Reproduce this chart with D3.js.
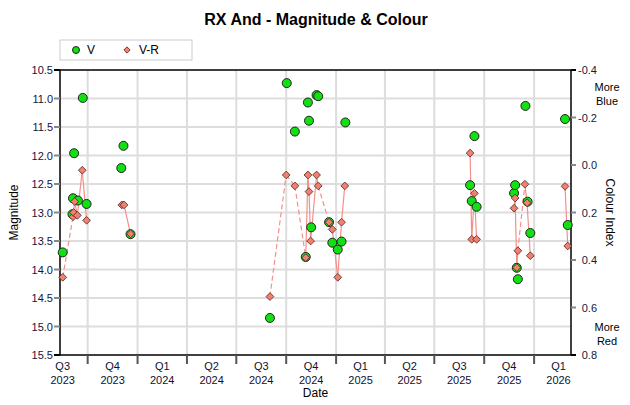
<!DOCTYPE html>
<html>
<head>
<meta charset="utf-8">
<title>RX And - Magnitude & Colour</title>
<style>
  body { margin: 0; background: #fff; }
  text { font-family: "Liberation Sans", Arial, sans-serif; }
</style>
</head>
<body>
<script src="https://d3js.org/d3.v7.min.js"></script>
<script>
// V magnitude observations
const vDates = ["2023-08-16","2023-09-03","2023-09-04","2023-09-06","2023-09-13","2023-09-22","2023-09-29",
  "2023-12-02","2023-12-06","2023-12-19",
  "2024-09-01","2024-10-02","2024-10-17","2024-11-06","2024-11-10","2024-11-12","2024-11-16","2024-11-26",
  "2024-11-29","2024-12-19","2024-12-25","2025-01-04","2025-01-11","2025-01-18",
  "2025-09-05","2025-09-08","2025-09-13","2025-09-17",
  "2025-11-25","2025-11-27","2025-11-30","2025-12-02","2025-12-16","2025-12-20","2025-12-25",
  "2026-02-27","2026-03-04"];
const vMags = [13.70, 13.03, 12.75, 11.96, 12.79, 10.99, 12.85,
  12.22, 11.83, 13.38,
  14.85, 10.73, 11.58, 13.78, 11.07, 11.39, 13.26, 10.94,
  10.96, 13.17, 13.53, 13.65, 13.51, 11.42,
  12.52, 12.80, 11.66, 12.90,
  12.66, 12.52, 13.97, 14.17, 11.13, 12.81, 13.36,
  11.36, 13.22];

// V-R colour index observations
const vrDates = ["2023-08-16","2023-09-04","2023-09-05","2023-09-07","2023-09-12","2023-09-21","2023-09-29",
  "2023-12-03","2023-12-07","2023-12-19",
  "2024-09-01","2024-10-01","2024-10-17","2024-11-06","2024-11-10","2024-11-12","2024-11-15","2024-11-26",
  "2024-11-29","2024-12-19","2024-12-25","2025-01-04","2025-01-11","2025-01-17",
  "2025-09-05","2025-09-08","2025-09-13","2025-09-17",
  "2025-11-25","2025-11-27","2025-11-30","2025-12-02","2025-12-15","2025-12-19","2025-12-25",
  "2026-02-27","2026-03-04"];
const vrIndex = [0.473, 0.218, 0.200, 0.154, 0.212, 0.022, 0.233,
  0.168, 0.168, 0.290,
  0.554, 0.042, 0.088, 0.390, 0.042, 0.112, 0.320, 0.042,
  0.088, 0.241, 0.271, 0.473, 0.241, 0.088,
  -0.050, 0.313, 0.119, 0.313,
  0.182, 0.139, 0.432, 0.361, 0.081, 0.159, 0.382,
  0.090, 0.341];

// axis ticks
const magTicks = [10.5, 11.0, 11.5, 12.0, 12.5, 13.0, 13.5, 14.0, 14.5, 15.0, 15.5];
const ciTicks = [-0.4, -0.2, 0.0, 0.2, 0.4, 0.6, 0.8];
const quarterStarts = ["2023-07-01","2023-10-01","2024-01-01","2024-04-01","2024-07-01","2024-10-01",
  "2025-01-01","2025-04-01","2025-07-01","2025-10-01","2026-01-01","2026-04-01"];

const W = 630, H = 405;
const pl = 60, pr = 571, pt = 70, pb = 355;
const parse = d3.timeParse("%Y-%m-%d");

const svg = d3.select("body").append("svg")
  .attr("width", W).attr("height", H);

const x = d3.scaleTime()
  .domain([parse("2023-08-11"), parse("2026-03-10")])
  .range([pl, pr]);
const yMag = d3.scaleLinear().domain([10.5, 15.5]).range([pt, pb]);
const yCi = d3.scaleLinear().domain([-0.4, 0.8]).range([pt, pb]);

const qDates = quarterStarts.map(parse);
const inner = qDates.filter(d => x(d) > pl + 1 && x(d) < pr - 1);

// grid
svg.append("g").selectAll("line")
  .data(magTicks.slice(1, -1)).enter().append("line")
  .attr("x1", pl).attr("x2", pr)
  .attr("y1", d => yMag(d)).attr("y2", d => yMag(d))
  .attr("stroke", "#dddddd").attr("stroke-width", 2);
svg.append("g").selectAll("line")
  .data(inner).enter().append("line")
  .attr("x1", d => x(d)).attr("x2", d => x(d))
  .attr("y1", pt).attr("y2", pb)
  .attr("stroke", "#dddddd").attr("stroke-width", 2);

// frame
svg.append("rect")
  .attr("x", pl).attr("y", pt)
  .attr("width", pr - pl).attr("height", pb - pt)
  .attr("fill", "none").attr("stroke", "#000").attr("stroke-width", 1.5);

// left axis
const gl = svg.append("g");
gl.selectAll("line").data(magTicks).enter().append("line")
  .attr("x1", pl - 6).attr("x2", pl)
  .attr("y1", d => yMag(d)).attr("y2", d => yMag(d))
  .attr("stroke", (d, i) => (i === 0 || i === magTicks.length - 1) ? "#000" : "#888")
  .attr("stroke-width", 2);
gl.selectAll("text").data(magTicks).enter().append("text")
  .attr("x", pl - 7).attr("y", d => yMag(d) + 4)
  .attr("text-anchor", "end").attr("font-size", 11).attr("fill", "#1a1040")
  .text(d => d.toFixed(1));
svg.append("text")
  .attr("transform", `translate(18,${(pt + pb) / 2}) rotate(-90)`)
  .attr("text-anchor", "middle").attr("font-size", 12)
  .text("Magnitude");

// right axis
const gr = svg.append("g");
gr.selectAll("line").data(ciTicks).enter().append("line")
  .attr("x1", pr).attr("x2", pr + 5)
  .attr("y1", d => yCi(d)).attr("y2", d => yCi(d))
  .attr("stroke", (d, i) => (i === 0 || i === ciTicks.length - 1) ? "#000" : "#888")
  .attr("stroke-width", 2);
gr.selectAll("text").data(ciTicks).enter().append("text")
  .attr("x", 597).attr("y", d => yCi(d) + 4)
  .attr("text-anchor", "end").attr("font-size", 11).attr("fill", "#102040")
  .text(d => d.toFixed(1));
svg.append("text")
  .attr("transform", `translate(606,${(pt + pb) / 2}) rotate(90)`)
  .attr("text-anchor", "middle").attr("font-size", 12)
  .text("Colour Index");
[["More", 91], ["Blue", 105], ["More", 331], ["Red", 345]].forEach(t => {
  svg.append("text").attr("x", 607).attr("y", t[1])
    .attr("text-anchor", "middle").attr("font-size", 11).text(t[0]);
});

// bottom axis
const gb = svg.append("g");
gb.selectAll("line").data(inner).enter().append("line")
  .attr("x1", d => x(d)).attr("x2", d => x(d))
  .attr("y1", pb).attr("y2", pb + 9)
  .attr("stroke", "#555").attr("stroke-width", 2);
const mids = d3.pairs(qDates).map(p => new Date((+p[0] + +p[1]) / 2));
const quarterLabels = qDates.slice(0, -1).map(d => ["Q" + (Math.floor(d.getMonth() / 3) + 1), String(d.getFullYear())]);
mids.forEach((m, i) => {
  const t = gb.append("text").attr("text-anchor", "middle").attr("font-size", 11).attr("fill", "#101030");
  t.append("tspan").attr("x", x(m)).attr("y", pb + 15).text(quarterLabels[i][0]);
  t.append("tspan").attr("x", x(m)).attr("y", pb + 29).text(quarterLabels[i][1]);
});
svg.append("text")
  .attr("x", (pl + pr) / 2).attr("y", 397)
  .attr("text-anchor", "middle").attr("font-size", 12)
  .text("Date");

// title
svg.append("text")
  .attr("x", 316).attr("y", 25)
  .attr("text-anchor", "middle").attr("font-size", 16).attr("font-weight", "bold")
  .text("RX And - Magnitude & Colour");

// V-R connecting lines: solid for short gaps, dashed for longer, none for big gaps
const vr = vrDates.map((d, i) => ({ date: parse(d), ci: vrIndex[i] }));
const dayMs = 86400000;
d3.pairs(vr).forEach(p => {
  const gap = (p[1].date - p[0].date) / dayMs;
  if (gap > 40) return;
  svg.append("line")
    .attr("x1", x(p[0].date)).attr("y1", yCi(p[0].ci))
    .attr("x2", x(p[1].date)).attr("y2", yCi(p[1].ci))
    .attr("stroke", "#f4908a").attr("stroke-width", 1.2)
    .attr("stroke-dasharray", gap >= 13 ? "5,3" : null);
});

// V points
const v = vDates.map((d, i) => ({ date: parse(d), mag: vMags[i] }));
svg.append("g").selectAll("circle")
  .data(v).enter().append("circle")
  .attr("cx", d => x(d.date)).attr("cy", d => yMag(d.mag))
  .attr("r", 4.5)
  .attr("fill", "#11e011").attr("stroke", "#222").attr("stroke-width", 1);

// V-R points
const sq = d3.symbol().type(d3.symbolSquare).size(30);
svg.append("g").selectAll("path")
  .data(vr).enter().append("path")
  .attr("d", sq)
  .attr("transform", d => `translate(${x(d.date)},${yCi(d.ci)}) rotate(45)`)
  .attr("fill", "#f08070").attr("stroke", "#5a2a25").attr("stroke-width", 0.8);

// legend
const lg = svg.append("g");
lg.append("rect").attr("x", 60).attr("y", 40).attr("width", 132).attr("height", 20)
  .attr("fill", "#fff").attr("stroke", "#cccccc");
lg.append("circle").attr("cx", 76).attr("cy", 50).attr("r", 3.5)
  .attr("fill", "#11e011").attr("stroke", "#222");
lg.append("text").attr("x", 87).attr("y", 54).attr("font-size", 12).text("V");
lg.append("path").attr("d", d3.symbol().type(d3.symbolSquare).size(20))
  .attr("transform", "translate(127,50) rotate(45)")
  .attr("fill", "#f08070").attr("stroke", "#5a2a25").attr("stroke-width", 0.8);
lg.append("text").attr("x", 139).attr("y", 54).attr("font-size", 12).text("V-R");
</script>
</body>
</html>
